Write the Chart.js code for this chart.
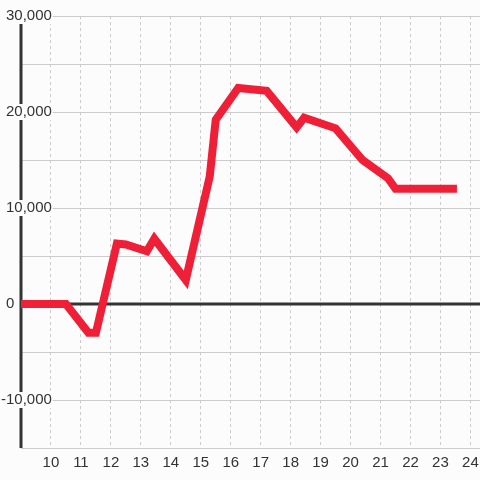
<!DOCTYPE html>
<html>
<head>
<meta charset="utf-8">
<script src="https://cdn.jsdelivr.net/npm/chart.js@4/dist/chart.umd.min.js"></script>
<style>
    html, body { margin: 0; padding: 0; background: #fcfcfc; }
    #chart { display: block; }
</style>
</head>
<body>
<canvas id="chart" width="480" height="480"></canvas>
<script>
// Series
const xValues = [9, 10.5, 11.25, 11.5, 12.2, 12.5, 13.2, 13.45, 14.5, 15.3, 15.5, 16.25, 17.2, 18.2, 18.45, 19.5, 20.4, 21.25, 21.5, 23.55];
const yValues = [0, 0, -3000, -3000, 6300, 6200, 5500, 6800, 2500, 13300, 19200, 22500, 22200, 18400, 19400, 18300, 15000, 13100, 12000, 12000];

// Axis ticks
const xTickValues = [9, 10, 11, 12, 13, 14, 15, 16, 17, 18, 19, 20, 21, 22, 23, 24];
const yLabelValues = [30000, 20000, 10000, 0, -10000];

const BG = '#fcfcfc';
const INK = '#333333';
const GRID = '#cccccc';
const LINE_RED = '#ee1f36';
const FONT = '15px "Liberation Sans", Arial, sans-serif';

// Axis line, zero line and y labels with a backdrop that hides what is under them
const axisOverlay = {
    id: 'axisOverlay',
    beforeDatasetsDraw(chart) {
        const { ctx, chartArea, scales } = chart;
        const y0 = scales.y.getPixelForValue(0);
        ctx.save();
        ctx.strokeStyle = INK;
        ctx.lineWidth = 3;
        ctx.beginPath();
        ctx.moveTo(chartArea.left, y0);
        ctx.lineTo(chartArea.right, y0);
        ctx.moveTo(chartArea.left, chartArea.top);
        ctx.lineTo(chartArea.left, chartArea.bottom);
        ctx.stroke();

        ctx.font = FONT;
        ctx.textBaseline = 'middle';
        ctx.textAlign = 'left';
        const minusW = ctx.measureText('-').width;
        yLabelValues.forEach(v => {
            const text = v.toLocaleString('en-US');
            const w = ctx.measureText(text).width;
            const x = 6 - (v < 0 ? minusW : 0);
            const y = scales.y.getPixelForValue(v);
            ctx.fillStyle = BG;
            ctx.fillRect(x - 1, y - 8, w + 2, 16);
            ctx.fillStyle = INK;
            ctx.fillText(text, x, y);
        });
        ctx.restore();
    }
};

const points = xValues.map((x, i) => ({ x: x, y: yValues[i] }));

new Chart(document.getElementById('chart'), {
    type: 'line',
    data: {
        datasets: [{
            data: points,
            borderColor: LINE_RED,
            borderWidth: 8,
            pointRadius: 0,
            tension: 0,
            fill: false
        }]
    },
    options: {
        responsive: false,
        animation: false,
        layout: { padding: { left: 21, top: 16, right: 0, bottom: 0 } },
        plugins: {
            legend: { display: false },
            tooltip: { enabled: false }
        },
        scales: {
            x: {
                type: 'linear',
                position: 'bottom',
                min: 9,
                max: 24.32,
                afterBuildTicks: (scale) => {
                    scale.ticks = xTickValues.map(v => ({ value: v }));
                },
                afterFit: (scale) => {
                    scale.height = 32;
                    scale.paddingLeft = 0;
                    scale.paddingRight = 0;
                },
                grid: { color: GRID, lineWidth: 1, drawTicks: false },
                border: { display: false, dash: [3, 3] },
                ticks: {
                    color: INK,
                    font: { family: '"Liberation Sans", Arial, sans-serif', size: 15 },
                    padding: 6,
                    maxRotation: 0,
                    autoSkip: false,
                    callback: (v) => (v === 9 ? '' : String(v))
                }
            },
            y: {
                min: -15000,
                max: 30000,
                afterFit: (scale) => {
                    scale.width = 0;
                    scale.paddingTop = 0;
                    scale.paddingBottom = 0;
                },
                grid: { color: GRID, lineWidth: 1, drawTicks: false },
                border: { display: false },
                ticks: { display: false, stepSize: 5000 }
            }
        }
    },
    plugins: [axisOverlay]
});
</script>
</body>
</html>
